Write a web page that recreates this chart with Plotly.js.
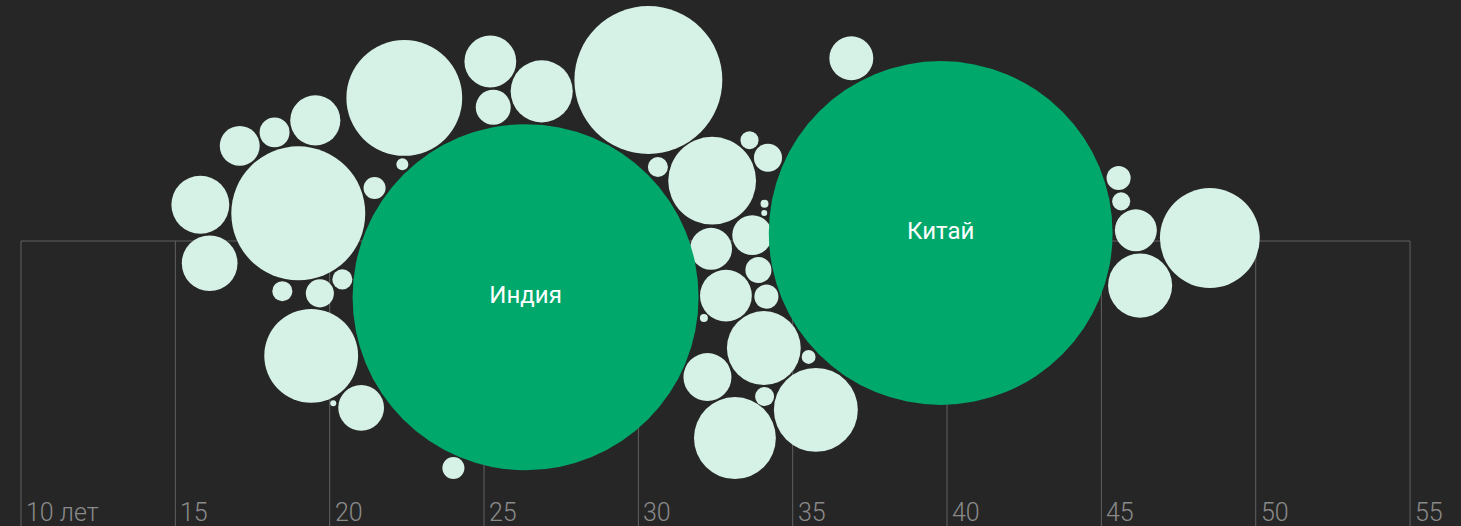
<!DOCTYPE html>
<html>
<head>
<meta charset="utf-8">
<script src="https://cdn.plot.ly/plotly-3.0.1.min.js"></script>
<style>
html,body{margin:0;padding:0;background:#262626;overflow:hidden}
#chart{width:1461px;height:526px}
</style>
</head>
<body>
<div id="chart"></div>
<script>
// ---- DATA (median age, years; population, millions) ----
const highlightNames = ['Индия', 'Китай'];
const highlightAge = [26.65, 39.45];
const highlightPop = [1428, 1410];

const otherAge = [30.5, 19.1, 22.7, 48.5, 20.0, 31.9, 35.1, 33.1, 32.8, 45.9,
                  27.1, 16.3, 16.1, 25.4, 33.2, 19.4, 32.9, 21.7, 37.2, 31.8,
                  45.5, 17.5, 33.5, 25.5, 18.3, 20.4, 34.5, 33.8, 33.7, 34.0,
                  45.0, 24.8, 21.4, 20.8, 18.5, 45.3, 33.7, 34.4, 30.7, 34.7,
                  34.3, 22.6, 19.9, 31.3];
const otherPop = [261, 214, 160, 119, 105, 92, 84, 80, 65, 49,
                  46, 40, 37, 32, 32, 30, 27.5, 25, 23, 21,
                  21, 19, 19, 14.6, 10.7, 9.4, 9.4, 8.1, 4.3, 6.9,
                  6.9, 5.8, 5.8, 4.8, 4.8, 3.9, 3.9, 2.3, 4.8, 0.76,
                  0.43, 1.7, 0.43, 0.76];

const tickValues = [10, 15, 20, 25, 30, 35, 40, 45, 50, 55];
const tickLabels = ['10 лет', '15', '20', '25', '30', '35', '40', '45', '50', '55'];

// ---- LAYOUT CONSTANTS ----
const W = 1461, H = 526;
const X0 = 9.32, X1 = 56.65;          // x axis range (years)
const Y_TOP = -241, Y_BOT = 285;      // y axis in px offsets from centre line
const TOP_LIMIT = -235, BOT_LIMIT = 238; // vertical room for the swarm
const ppy = W / (X1 - X0);            // px per year
const K = 4.578;                      // radius px per sqrt(million)
const LIGHT = '#d6f1e6', GREEN = '#00a86b', BG = '#262626', GRID = '#616161', LABEL = '#8a8a8a';

// ---- force layout (beeswarm) ----
const ages = highlightAge.concat(otherAge);
const pops = highlightPop.concat(otherPop);
const n = ages.length;
const order = ages.map((a, i) => i).sort((a, b) => pops[b] - pops[a]);
const nodes = new Array(n);
order.forEach((idx, k) => {
  const r = K * Math.sqrt(pops[idx]);
  const tx = (ages[idx] - X0) * ppy;
  const rad = 10 * Math.sqrt(0.5 + k), ang = k * Math.PI * (3 - Math.sqrt(5));
  nodes[idx] = {r: r, tx: tx, x: tx + rad * Math.cos(ang), y: rad * Math.sin(ang), vx: 0, vy: 0};
});
const list = order.map(i => nodes[i]);
let alpha = 1;
const alphaMin = 0.001, alphaTarget = 0.03, alphaDecay = 1 - Math.pow(alphaMin, 1 / 300);
const SX = 1.0, SY = 0.1, PAD = 1.2;
function collide() {
  for (let a = 0; a < list.length; a++) {
    const p = list[a];
    const xi = p.x + p.vx, yi = p.y + p.vy, ri = p.r + PAD, ri2 = ri * ri;
    for (let b = a + 1; b < list.length; b++) {
      const q = list[b];
      let dx = xi - q.x - q.vx, dy = yi - q.y - q.vy;
      let rj = q.r + PAD;
      const rr = ri + rj;
      let l = dx * dx + dy * dy;
      if (l < rr * rr) {
        if (dx === 0) { dx = 1e-6; l += dx * dx; }
        if (dy === 0) { dy = 1e-6; l += dy * dy; }
        l = Math.sqrt(l);
        l = (rr - l) / l;
        rj *= rj;
        const f = rj / (ri2 + rj);
        dx *= l; dy *= l;
        p.vx += dx * f; p.vy += dy * f;
        q.vx -= dx * (1 - f); q.vy -= dy * (1 - f);
      }
    }
  }
}
for (let t = 0; t < 800; t++) {
  alpha += (alphaTarget - alpha) * alphaDecay;
  for (const d of list) { d.vx += (d.tx - d.x) * SX * alpha; d.vy += (0 - d.y) * SY * alpha; }
  for (let it = 0; it < 3; it++) collide();
  for (const d of list) {
    d.vx *= 0.6; d.vy *= 0.6; d.x += d.vx; d.y += d.vy;
    if (d.y - d.r < TOP_LIMIT) { d.y = TOP_LIMIT + d.r; if (d.vy < 0) d.vy = 0; }
    if (d.y + d.r > BOT_LIMIT) { d.y = BOT_LIMIT - d.r; if (d.vy > 0) d.vy = 0; }
  }
}

const toAge = px => X0 + px / ppy;
const hiN = highlightAge.length;
const otherX = [], otherY = [], otherS = [];
for (let i = hiN; i < n; i++) { otherX.push(toAge(nodes[i].x)); otherY.push(nodes[i].y); otherS.push(2 * nodes[i].r); }
const hiX = [], hiY = [], hiS = [];
for (let i = 0; i < hiN; i++) { hiX.push(toAge(nodes[i].x)); hiY.push(nodes[i].y); hiS.push(2 * nodes[i].r); }

const traces = [
  {type: 'scatter', mode: 'markers', x: otherX, y: otherY, hoverinfo: 'skip',
   marker: {size: otherS, sizemode: 'diameter', color: LIGHT, line: {width: 0}, opacity: 1}},
  {type: 'scatter', mode: 'markers+text', x: hiX, y: hiY, text: highlightNames, hoverinfo: 'skip',
   textposition: 'middle center', textfont: {family: 'Roboto', size: 24, color: '#ffffff'},
   marker: {size: hiS, sizemode: 'diameter', color: GREEN, line: {width: 0}, opacity: 1}}
];

const shapes = [{type: 'line', xref: 'x', yref: 'y', x0: tickValues[0], x1: tickValues[tickValues.length - 1], y0: 0, y1: 0,
                 line: {color: GRID, width: 1}, layer: 'below'}];
tickValues.forEach(v => shapes.push({type: 'line', xref: 'x', yref: 'y', x0: v, x1: v, y0: 0, y1: Y_BOT,
                 line: {color: GRID, width: 1}, layer: 'below'}));
const annotations = tickValues.map((v, i) => ({
  x: v, xref: 'x', y: 0, yref: 'paper', xanchor: 'left', yanchor: 'bottom', xshift: 3, yshift: -3,
  text: tickLabels[i], showarrow: false, font: {family: 'Roboto', size: 25, weight: 300, color: LABEL}
}));

const layout = {
  width: W, height: H, margin: {l: 0, r: 0, t: 0, b: 0},
  paper_bgcolor: BG, plot_bgcolor: BG, showlegend: false,
  xaxis: {range: [X0, X1], visible: false, fixedrange: true},
  yaxis: {range: [Y_BOT, Y_TOP], visible: false, fixedrange: true},
  shapes: shapes, annotations: annotations
};
Plotly.newPlot('chart', traces, layout, {displayModeBar: false, staticPlot: true});
</script>
</body>
</html>
